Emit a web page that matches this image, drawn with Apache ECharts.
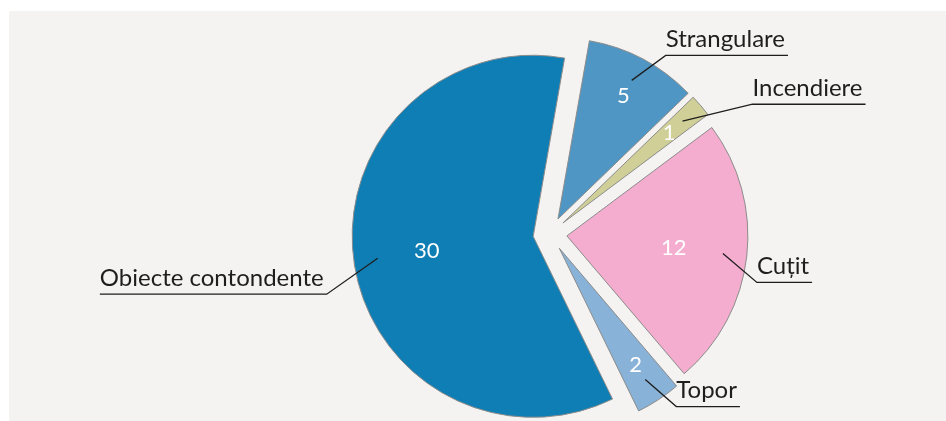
<!DOCTYPE html>
<html>
<head>
<meta charset="utf-8">
<script src="https://cdn.jsdelivr.net/npm/echarts@6/dist/echarts.min.js"></script>
<style>
  html, body { margin: 0; padding: 0; background: #fff; }
  #chart { width: 946px; height: 421px; }
</style>
</head>
<body>
<div id="chart"></div>
<script>
  const categories = ['Strangulare', 'Incendiere', 'Cuțit', 'Topor', 'Obiecte contondente'];
  const counts = [5, 1, 12, 2, 30];
  const sliceColors = ['#5096c4', '#cfcf97', '#f4adcf', '#88b2d7', '#0f7eb4'];
  // where each leader line bends, relative to where it starts inside the slice
  const leaderBends = [[34, -25], [70, -17], [34, 29], [31, 27], [-51, 36]];

  const chart = echarts.init(document.getElementById('chart'));
  const font = 'Lato, "Open Sans", sans-serif';
  const explode = 17;

  const base = {
    type: 'pie',
    center: [550, 234],
    startAngle: 80,
    selectedMode: 'multiple',
    selectedOffset: explode,
    silent: true,
    avoidLabelOverlap: false,
    emphasis: { disabled: true }
  };

  function pieData(withColors, selected) {
    return categories.map((name, i) => ({
      name: name,
      value: counts[i],
      selected: selected,
      itemStyle: withColors ? { color: sliceColors[i] } : undefined
    }));
  }

  const clear = { color: 'rgba(0,0,0,0)', borderWidth: 0 };

  // value labels: big slices nearer the middle, small ones nearer the rim
  function valueSeries(radius, test) {
    return Object.assign({}, base, {
      radius: radius,
      z: 4,
      data: pieData(false, true),
      itemStyle: clear,
      label: {
        position: 'inside',
        color: '#fff',
        fontFamily: font,
        fontSize: 22,
        formatter: p => (test(p.percent) ? String(p.value) : '')
      },
      labelLine: { show: false }
    });
  }

  const option = {
    animation: false,
    backgroundColor: '#fff',
    graphic: [{
      type: 'rect',
      z: -10,
      shape: { x: 9, y: 11, width: 937, height: 410 },
      style: { fill: '#f4f3f1' }
    }],
    series: [
      Object.assign({}, base, {
        radius: 181,
        data: pieData(true, true),
        itemStyle: { borderColor: '#8c8c8c', borderWidth: 1 },
        label: { show: false },
        labelLine: { show: false }
      }),
      // category names with leader lines (not selected; the explode shift is added by hand)
      Object.assign({}, base, {
        radius: 157,
        z: 5,
        selectedMode: false,
        data: pieData(false, false),
        itemStyle: clear,
        label: {
          position: 'outside',
          color: '#1e1e1e',
          fontFamily: font,
          fontSize: 24
        },
        labelLine: {
          show: true,
          length: 20,
          length2: 10,
          lineStyle: { color: '#1e1e1e', width: 1.3 }
        },
        labelLayout: function (params) {
          const pts = params.labelLinePoints;
          if (!pts) return {};
          const a = pts[0], b = pts[1];
          const len = Math.hypot(b[0] - a[0], b[1] - a[1]) || 1;
          const p0 = [a[0] + (b[0] - a[0]) / len * explode, a[1] + (b[1] - a[1]) / len * explode];
          const bend = leaderBends[params.dataIndex];
          const p1 = [p0[0] + bend[0], p0[1] + bend[1]];
          const left = bend[0] < 0;
          const w = params.labelRect.width + 3;
          const p2 = [p1[0] + (left ? -w : w), p1[1]];
          return {
            x: left ? p1[0] - 3 : p1[0],
            y: p1[1] - 4,
            align: left ? 'right' : 'left',
            verticalAlign: 'bottom',
            labelLinePoints: [p0, p1, p2]
          };
        }
      }),
      valueSeries([28, 181], pct => pct >= 20),
      valueSeries([92, 181], pct => pct < 20)
    ]
  };
  chart.setOption(option);

  window.addEventListener('resize', function () {
    chart.resize();
  });
</script>
</body>
</html>
